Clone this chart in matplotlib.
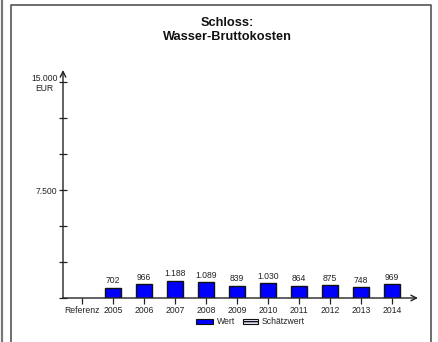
import matplotlib
matplotlib.use("Agg")
import matplotlib.pyplot as plt
from matplotlib.lines import Line2D
from matplotlib.patches import Rectangle

categories = ["Referenz", "2005", "2006", "2007", "2008", "2009", "2010", "2011", "2012", "2013", "2014"]
values = [None, 702, 966, 1188, 1089, 839, 1030, 864, 875, 748, 969]
value_labels = ["", "702", "966", "1.188", "1.089", "839", "1.030", "864", "875", "748", "969"]
y_ticks = [0, 2500, 5000, 7500, 10000, 12500, 15000]
y_ticklabels = ["", "", "", "7.500", "", "", "15.000\nEUR"]
title = "Schloss:\nWasser-Bruttokosten"
legend_labels = ["Wert", "Schätzwert"]

plt.rcParams['font.family'] = ['Liberation Sans', 'DejaVu Sans']

W, H = 438, 342
fig = plt.figure(figsize=(W/100, H/100), dpi=100)

def fx(x): return x / W
def fy(y): return 1 - y / H

FS = 6.2

# frame lines
fig.add_artist(Line2D([fx(1.5), fx(1.5)], [0, 1], color="#777777", lw=1.6))
fig.add_artist(Line2D([fx(10.5), fx(10.5), fx(431), fx(431)], [0, fy(4.5), fy(4.5), 0], color="#555555", lw=1.2))

ax = fig.add_axes([fx(63), fy(298), fx(418) - fx(63), fy(70) - fy(298)])
ax.patch.set_alpha(0)
xs = list(range(len(categories)))
ax.set_xlim(-19/31, (418-82)/31)
ax.set_ylim(0, (298-70)/108*7500)

for x, v, lab in zip(xs, values, value_labels):
    if v is None:
        continue
    ax.bar(x, v, width=0.52, color="#0000ff", edgecolor="#111111", linewidth=1.0)
    ax.text(x, v + 170, lab, ha="center", va="bottom", fontsize=FS, color="#222222")

for s in ["top", "right", "left", "bottom"]:
    ax.spines[s].set_visible(False)

ax.annotate("", xy=(1, 0), xytext=(0, 0), xycoords="axes fraction",
            arrowprops=dict(arrowstyle="->", color="#222222", lw=1.0, shrinkA=0, shrinkB=0))
ax.annotate("", xy=(0, 1), xytext=(0, 0), xycoords="axes fraction",
            arrowprops=dict(arrowstyle="->", color="#222222", lw=1.0, shrinkA=0, shrinkB=0))

ax.set_yticks(y_ticks)
ax.set_yticklabels(y_ticklabels, fontsize=FS, color="#222222")
for t in ax.get_yticklabels():
    t.set_multialignment("center")
ax.tick_params(axis="y", direction="inout", length=6, width=0.9, color="#222222", pad=1)
ax.set_xticks(xs)
ax.set_xticklabels(categories, fontsize=FS, color="#222222")
ax.tick_params(axis="x", direction="out", length=4, width=0.9, color="#222222", pad=1.5)

fig.text(fx(227), fy(30), title, ha="center", va="center", fontsize=9.2, fontweight="bold",
         linespacing=1.25, color="#111111")

# legend
fig.add_artist(Rectangle((fx(196), fy(324)), fx(213)-fx(196), fy(319)-fy(324),
                         facecolor="#0000ff", edgecolor="#111111", lw=0.8))
fig.text(fx(217), fy(321.5), legend_labels[0], ha="left", va="center", fontsize=FS, color="#222222")
fig.add_artist(Rectangle((fx(243), fy(324)), fx(258)-fx(243), fy(319)-fy(324),
                         facecolor="#e8e8ff", edgecolor="#111111", lw=0.8, hatch="-----"))
fig.text(fx(262), fy(321.5), legend_labels[1], ha="left", va="center", fontsize=FS, color="#222222")

fig.savefig("out.png", dpi=100)
